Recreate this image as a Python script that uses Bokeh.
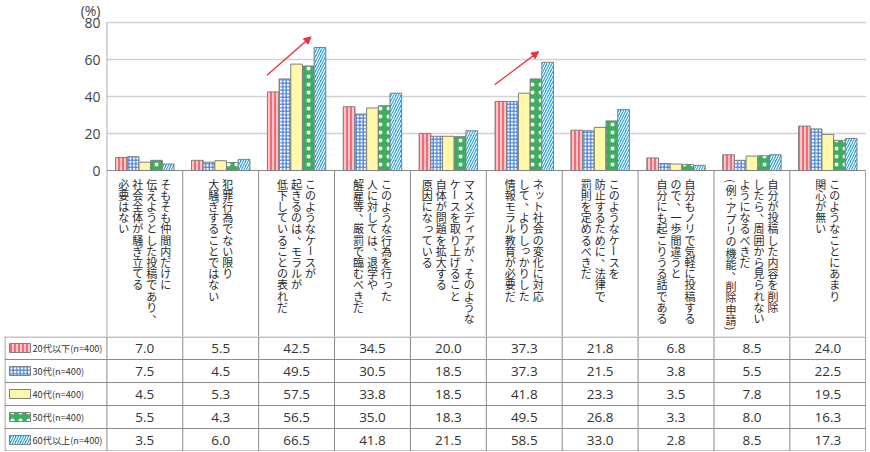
import math
from bokeh.plotting import figure
from bokeh.models import Range1d, FixedTicker, ColumnDataSource, Arrow, NormalHead
from bokeh.layouts import column
from bokeh.core.properties import value
from bokeh.embed import file_html
from bokeh.resources import INLINE

# ---------------- data ----------------
categories = [
    ["そもそも仲間内だけに", "伝えようとした投稿であり、", "社会全体が騒ぎ立てる", "必要はない"],
    ["犯罪行為でない限り", "大騒ぎすることではない"],
    ["このようなケースが", "起きるのは、モラルが", "低下していることの表れだ"],
    ["このような行為を行った", "人に対しては、退学や", "解雇等、厳罰で臨むべきだ"],
    ["マスメディアが、そのような", "ケースを取り上げること", "自体が問題を拡大する", "原因になっている"],
    ["ネット社会の変化に対応", "して、よりしっかりした", "情報モラル教育が必要だ"],
    ["このようなケースを", "防止するために、法律で", "罰則を定めるべきだ"],
    ["自分もノリで気軽に投稿する", "ので、一歩間違うと", "自分にも起こりうる話である"],
    ["自分が投稿した内容を削除", "したら、周囲から見られない", "ようになるべきだ", "(例:アプリの機能、削除申請)"],
    ["このようなことにあまり", "関心が無い"],
]
series_names = ["20代以下(n=400)", "30代(n=400)", "40代(n=400)", "50代(n=400)", "60代以上(n=400)"]
v20 = [7.0, 5.5, 42.5, 34.5, 20.0, 37.3, 21.8, 6.8, 8.5, 24.0]
v30 = [7.5, 4.5, 49.5, 30.5, 18.5, 37.3, 21.5, 3.8, 5.5, 22.5]
v40 = [4.5, 5.3, 57.5, 33.8, 18.5, 41.8, 23.3, 3.5, 7.8, 19.5]
v50 = [5.5, 4.3, 56.5, 35.0, 18.3, 49.5, 26.8, 3.3, 8.0, 16.3]
v60 = [3.5, 6.0, 66.5, 41.8, 21.5, 58.5, 33.0, 2.8, 8.5, 17.3]
y_ticks = [0, 20, 40, 60, 80]
y_max = 80
arrow_cats = [2, 5]
y_unit_label = "(%)"

series = [v20, v30, v40, v50, v60]
ncat = len(categories)

# ---------------- styles ----------------
styles = [
    dict(fill_color="#FFC4C8", hatch_pattern="|", hatch_color="#E8505A", hatch_scale=4, hatch_weight=1.5),
    dict(fill_color="#FFFFFF", hatch_pattern="+", hatch_color="#3F7BD6", hatch_scale=3.5, hatch_weight=1.2),
    dict(fill_color="#FFF7AA"),
    dict(fill_color="#3DAE5E", hatch_pattern=".", hatch_color="#FFFFFF", hatch_scale=8, hatch_weight=2.5),
    dict(fill_color="#1E9FE3", hatch_pattern="/", hatch_color="#FFFFFF", hatch_scale=5, hatch_weight=1.2),
]
OUT = "#808080"
GRID = "#d2d2d2"
LINE = "#8a8a8a"

# ---------------- geometry ----------------
W = 866
left_px = 106
frame_w = W - left_px
x0 = -0.005
x1 = 10.01
ppu_x = frame_w / (x1 - x0)
ppu_y = 148 / float(y_max)
top_px = 3
above_px = 22 - top_px          # px between frame top and the 80 line
lab_h = 166                     # px between baseline and table
y_top = y_max + above_px / ppu_y
y_bot = -lab_h / ppu_y
H1 = top_px + above_px + 148 + lab_h
bar_w = 0.154

p = figure(width=W, height=H1, x_range=Range1d(x0, x1), y_range=Range1d(y_bot, y_top),
           min_border_left=left_px, min_border_right=0, min_border_top=top_px, min_border_bottom=0,
           output_backend="svg", toolbar_location=None, tools="",
           x_axis_location=None)
p.frame_align = False
p.outline_line_color = None
p.background_fill_color = "white"
p.border_fill_color = "white"
p.xgrid.visible = False
p.ygrid.ticker = FixedTicker(ticks=[t for t in y_ticks if t > 0])
p.ygrid.grid_line_color = GRID
p.ygrid.grid_line_width = 1.5

unit_pos = y_max + (22 - 9 - 0) / ppu_y
ax = p.yaxis[0]
ax.ticker = FixedTicker(ticks=y_ticks + [unit_pos])
ax.major_label_overrides = {unit_pos: y_unit_label}
ax.bounds = (0, y_top)
ax.axis_line_color = None
ax.major_tick_out = 0
ax.major_tick_in = 0
ax.minor_tick_out = 0
ax.minor_tick_in = 0
ax.major_label_standoff = 6
ax.major_label_text_font = "Open Sans"
ax.major_label_text_font_size = "14px"
ax.major_label_text_color = "#444444"

# baseline
p.segment(x0=[0], y0=[0], x1=[ncat], y1=[0], line_color=LINE, line_width=1)
# axis line + dividers under the plot
bounds = list(range(ncat + 1))
p.segment(x0=[0], y0=[0], x1=[0], y1=[y_max], line_color=LINE, line_width=1)
p.segment(x0=bounds, y0=[0] * len(bounds), x1=bounds, y1=[y_bot] * len(bounds),
          line_color=LINE, line_width=1)

# bars
for i, (vals, st) in enumerate(zip(series, styles)):
    xs = [k + 0.5 + (i - 2) * bar_w for k in range(ncat)]
    p.vbar(x=xs, top=vals, bottom=0, width=bar_w, line_color=OUT, line_width=1, **st)

# arrows
for k in arrow_cats:
    p.add_layout(Arrow(x_start=k + 0.11, y_start=v20[k] + 9, x_end=k + 0.69, y_end=v60[k] + 5.75,
                       line_color="#E8323C", line_width=1.3,
                       end=NormalHead(size=7, fill_color="#E8323C", line_color="#E8323C")))

# vertical category labels
fs = 11
pitch = 11.2
half_adv = 6.5
col_sp = 14
top_c = 13
half = set("():")
rot = set("ー()")
small = set("ゃゅょっぁぃぅぇぉャュョッァィゥェォ")
punct = set("、。")
lx, ly, lt, la = [], [], [], []
for k, lines in enumerate(categories):
    n = len(lines)
    for c, line in enumerate(lines):
        cxp = ((n - 1) / 2.0 - c) * col_sp
        pos = top_c - pitch / 2.0
        for ch in line:
            adv = half_adv if ch in half else pitch
            cy = pos + adv / 2.0
            dx, dy = 0.0, 0.0
            if ch in punct:
                dx, dy = 6.0, -6.0
            elif ch in small:
                dx, dy = 1.5, -1.5
            lx.append(k + 0.5 + (cxp + dx) / ppu_x)
            ly.append(-(cy + dy) / ppu_y)
            lt.append(ch)
            la.append(-math.pi / 2 if ch in rot else 0.0)
            pos += adv
lsrc = ColumnDataSource(dict(x=lx, y=ly, t=lt, a=la))
p.text(x="x", y="y", text="t", angle="a", source=lsrc, text_font=value("Noto Sans CJK JP"),
       text_font_size=f"{fs}px", text_align="center", text_baseline="middle", text_color="#2a2a2a")

# ---------------- table ----------------
row_h = 23
nrow = len(series)
tleft = 4
tx0 = x0 - (left_px - tleft) / ppu_x
t = figure(width=W, height=row_h * nrow, x_range=Range1d(tx0, x1), y_range=Range1d(nrow, 0),
           min_border_left=tleft, min_border_right=0, min_border_top=0, min_border_bottom=0,
           output_backend="svg", toolbar_location=None, tools="",
           x_axis_location=None, y_axis_location=None)
t.frame_align = False
t.outline_line_color = None
t.grid.visible = False
eps_y = 0.5 / row_h
hy = [eps_y] + list(range(1, nrow)) + [nrow - eps_y]
t.segment(x0=[tx0] * len(hy), y0=hy, x1=[ncat] * len(hy), y1=hy, line_color=LINE, line_width=1)
vx = [tx0 + 0.5 / ppu_x] + bounds
t.segment(x0=vx, y0=[0] * len(vx), x1=vx, y1=[nrow] * len(vx), line_color=LINE, line_width=1)

tx, ty, tt = [], [], []
for i, vals in enumerate(series):
    for k, v in enumerate(vals):
        tx.append(k + 0.5)
        ty.append(i + 0.5)
        tt.append(f"{v:.1f}")
t.text(x=tx, y=ty, text=tt, text_font=value("Open Sans"), text_font_size="13.5px",
       text_align="center", text_baseline="middle", text_color="#333333")

for i, (name, st) in enumerate(zip(series_names, styles)):
    t.quad(left=[tx0 + 5 / ppu_x], right=[tx0 + 26 / ppu_x], top=[i + 0.5 - 4.5 / row_h],
           bottom=[i + 0.5 + 4.5 / row_h], line_color=OUT, line_width=1, **st)
    t.text(x=[tx0 + 28 / ppu_x], y=[i + 0.5], text=[name],
           text_font=value("Noto Sans CJK JP"),
           text_font_size="9.2px", text_align="left", text_baseline="middle", text_color="#333333")

layout = column(p, t, spacing=0)
open("out.html", "w").write(file_html(layout, INLINE))
